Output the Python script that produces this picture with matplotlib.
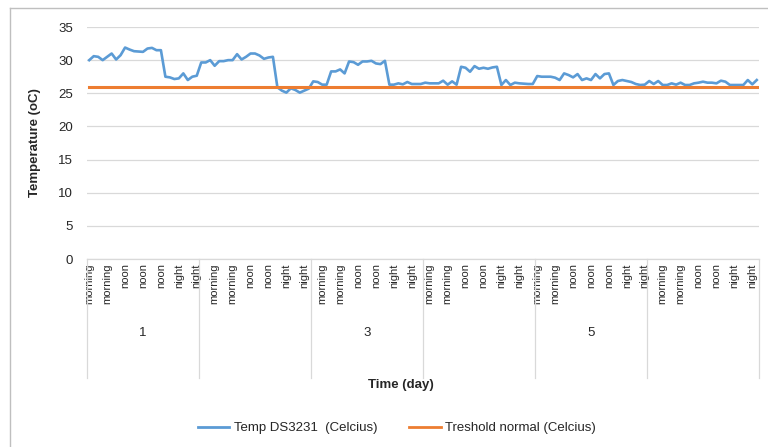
import matplotlib
matplotlib.use("Agg")
import matplotlib.pyplot as plt
import numpy as np
from matplotlib.lines import Line2D

plt.rcParams['font.family'] = ['Liberation Sans', 'DejaVu Sans']

# ---- data ----
days = ["1", "2", "3", "4", "5", "6"]
periods_per_day = (["morning"] * 8) + (["noon"] * 9) + (["night"] * 8)

temp_day1 = [30.0, 30.6, 30.5, 30.0, 30.5, 31.0, 30.1, 30.75, 31.9, 31.6, 31.35, 31.3, 31.25,
             31.75, 31.85, 31.5, 31.5, 27.5, 27.4, 27.15, 27.25, 28.0, 27.0, 27.5, 27.65]
temp_day2 = [29.65, 29.65, 30.0, 29.15, 29.85, 29.85, 30.0, 30.0, 30.9, 30.1, 30.5, 31.0, 31.0,
             30.7, 30.2, 30.4, 30.5, 25.9, 25.4, 25.1, 25.75, 25.5, 25.1, 25.4, 25.7]
temp_day3 = [26.8, 26.7, 26.3, 26.3, 28.3, 28.3, 28.6, 28.0, 29.8, 29.7, 29.3, 29.8, 29.8,
             29.9, 29.5, 29.4, 29.9, 26.3, 26.3, 26.5, 26.35, 26.7, 26.4, 26.4, 26.4]
temp_day4 = [26.6, 26.5, 26.5, 26.5, 26.9, 26.3, 26.8, 26.3, 29.0, 28.85, 28.25, 29.1, 28.7,
             28.85, 28.7, 28.9, 29.0, 26.25, 27.0, 26.25, 26.6, 26.5, 26.45, 26.4, 26.4]
temp_day5 = [27.6, 27.5, 27.5, 27.5, 27.35, 27.0, 28.0, 27.75, 27.4, 27.9, 27.0, 27.25, 27.0,
             27.9, 27.25, 27.9, 28.0, 26.25, 26.85, 27.0, 26.85, 26.7, 26.4, 26.25, 26.3]
temp_day6 = [26.85, 26.4, 26.85, 26.25, 26.25, 26.5, 26.3, 26.6, 26.25, 26.25, 26.5, 26.6, 26.75,
             26.6, 26.6, 26.5, 26.9, 26.75, 26.25, 26.25, 26.25, 26.25, 27.0, 26.35, 27.0]
threshold = 26

temps = temp_day1 + temp_day2 + temp_day3 + temp_day4 + temp_day5 + temp_day6
periods = periods_per_day * len(days)
n = len(temps)
per_day = len(periods_per_day)
x = np.arange(n)

# ---- figure ----
W, H = 768, 447
fig = plt.figure(figsize=(W / 100, H / 100), dpi=100)
L, R, T, B = 87, 759, 27, 259
ax = fig.add_axes([L / W, 1 - B / H, (R - L) / W, (B - T) / H])

blue = '#5B9BD5'
orange = '#ED7D31'
grid = '#D9D9D9'
txt = '#262626'

ax.plot(x, temps, color=blue, lw=1.9, solid_joinstyle='round', zorder=3)
ax.plot(x, [threshold] * n, color=orange, lw=2.2, zorder=4)

ax.set_xlim(-0.5, n - 0.5)
ax.set_ylim(0, 35)
ax.set_yticks(np.arange(0, 36, 5))
ax.yaxis.grid(True, color=grid, lw=0.9)
ax.set_axisbelow(True)
for s in ['top', 'right', 'left']:
    ax.spines[s].set_visible(False)
ax.spines['bottom'].set_color(grid)
ax.spines['bottom'].set_linewidth(0.9)
ax.tick_params(axis='y', length=0, pad=10, labelsize=9.5, labelcolor=txt)

ticks = x[::4]
ax.set_xticks(ticks)
ax.set_xticklabels([periods[i] for i in ticks], rotation=90, fontsize=8, color=txt)
ax.tick_params(axis='x', length=0, pad=3)

axh = B - T
# group boundary lines
for d in range(len(days) + 1):
    xb = d * per_day - 0.5
    ax.plot([xb, xb], [0, -(378 - B) / axh], transform=ax.get_xaxis_transform(),
            color=grid, lw=0.9, clip_on=False)
# day labels (every other shown)
for d, lab in enumerate(days):
    if d % 2 == 0:
        ax.text(d * per_day + (per_day - 1) / 2, -(333 - B) / axh, lab,
                transform=ax.get_xaxis_transform(), ha='center', va='center',
                fontsize=9.5, color=txt)

fig.text(401 / W, 1 - 385 / H, "Time (day)", ha='center', va='center',
         fontsize=9.5, fontweight='bold', color=txt)
ax.set_ylabel("Temperature (oC)", fontsize=9.5, fontweight='bold', color=txt)
ax.yaxis.set_label_coords((41 - L) / (R - L), 0.5)

handles = [Line2D([], [], color=blue, lw=2), Line2D([], [], color=orange, lw=2)]
fig.legend(handles, ["Temp DS3231  (Celcius)", "Treshold normal (Celcius)"],
           loc='center', bbox_to_anchor=(397 / W, 1 - 428 / H), ncol=2, frameon=False,
           fontsize=9.5, handlelength=2.4, handletextpad=0.35, columnspacing=2.4,
           labelcolor=txt)

# chart border
fig.add_artist(Line2D([10 / W, 10 / W], [0, 1 - 8 / H], color='#BFBFBF', lw=1))
fig.add_artist(Line2D([10 / W, 1], [1 - 8 / H, 1 - 8 / H], color='#BFBFBF', lw=1))

fig.savefig("out.png", dpi=100)
